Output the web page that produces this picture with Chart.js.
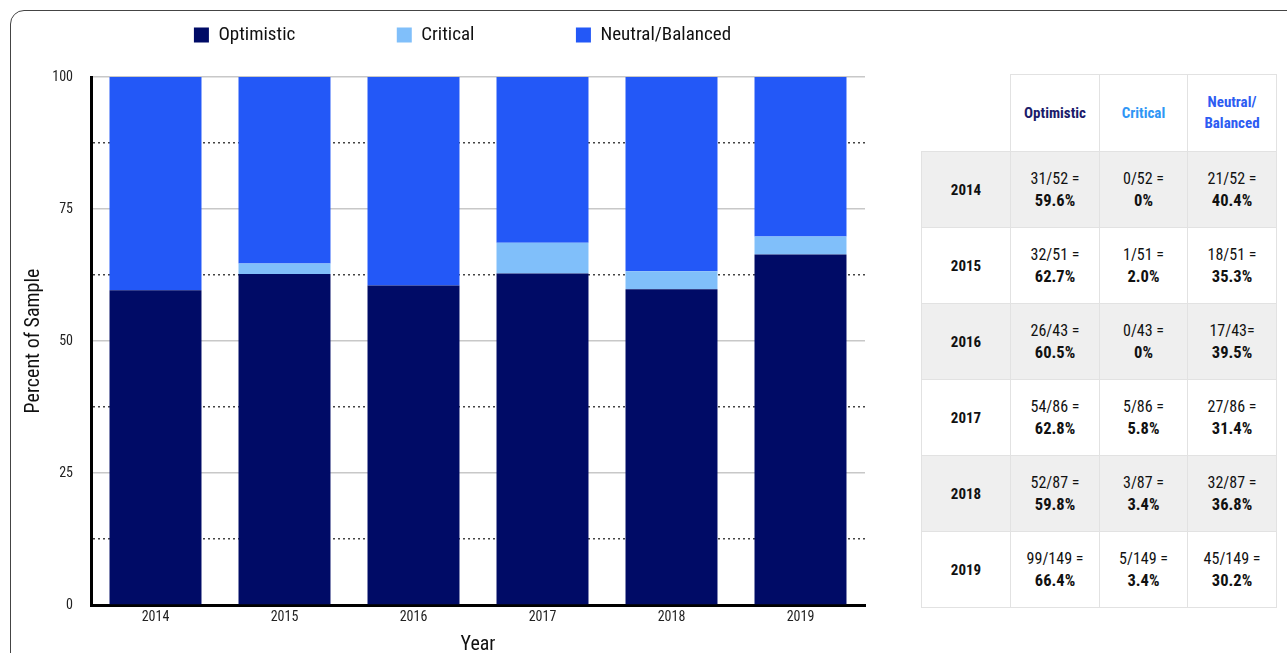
<!DOCTYPE html>
<html>
<head>
<meta charset="utf-8">
<script src="https://cdn.jsdelivr.net/npm/chart.js@4"></script>
<style>
  html, body { margin: 0; padding: 0; background: #fff; overflow: hidden; }
  body { width: 1287px; height: 653px; position: relative; font-family: "Roboto Condensed", Roboto, sans-serif; }
  #frame { position: absolute; left: 10px; top: 10px; width: 1300px; height: 700px; border: 1.5px solid #444; border-radius: 14px; }
  #chartBox { position: absolute; left: 12px; top: -76px; width: 901px; height: 733px; }
  #tbl { position: absolute; left: 921px; top: 74px; border-collapse: collapse; table-layout: fixed; }
  #tbl td, #tbl th { border: 1px solid #e2e2e2; text-align: center; vertical-align: middle; padding: 0; }
  #tbl th { height: 76px; font-size: 15px; font-weight: bold; line-height: 21px; }
  #tbl td { height: 75px; font-size: 16px; line-height: 22px; color: #111; }
  #tbl td b { font-size: 16.5px; }
  #tbl td.yr { font-weight: bold; font-size: 15px; }
  #tbl tr.alt td { background: #efefef; }
  #tbl th.corner { border-top: none; border-left: none; }
</style>
</head>
<body>
<div id="frame"></div>
<div id="chartBox"><canvas id="myChart"></canvas></div>
<table id="tbl"></table>
<script>
var years = ['2014', '2015', '2016', '2017', '2018', '2019'];
var totals = [52, 51, 43, 86, 87, 149];
var optimisticCount = [31, 32, 26, 54, 52, 99];
var criticalCount = [0, 1, 0, 5, 3, 5];
var neutralCount = [21, 18, 17, 27, 32, 45];
var optimisticPct = [59.6, 62.7, 60.5, 62.8, 59.8, 66.4];
var criticalPct = [0, 2.0, 0, 5.8, 3.4, 3.4];
var neutralPct = [40.4, 35.3, 39.5, 31.4, 36.8, 30.2];
var neutralEq = [' =', ' =', '=', ' =', ' =', ' ='];
var yTicks = [0, 25, 50, 75, 100];

var colors = {
  optimistic: '#000b66',
  critical: '#80bffa',
  neutral: '#2358f7'
};
var headColors = ['#1b1b6b', '#2f96f5', '#2d5cf2'];

var font = '"Roboto Condensed", Roboto, sans-serif';

function createChart() {
  var ctx = document.getElementById('myChart');
  new Chart(ctx, {
    type: 'bar',
    data: {
      labels: years,
      datasets: [
        { label: 'Optimistic', data: optimisticPct, backgroundColor: colors.optimistic },
        { label: 'Critical', data: criticalPct, backgroundColor: colors.critical },
        { label: 'Neutral/Balanced', data: neutralPct, backgroundColor: colors.neutral }
      ].map(function (d) {
        d.xAxisID = 'x';
        d.yAxisID = 'y';
        d.borderWidth = 0;
        d.barPercentage = 0.713;
        d.categoryPercentage = 1;
        return d;
      })
    },
    options: {
      responsive: true,
      maintainAspectRatio: false,
      animation: false,
      layout: { padding: 0 },
      plugins: {
        tooltip: { enabled: false },
        legend: {
          position: 'top',
          labels: {
            font: { family: font, size: 19 },
            color: '#111',
            boxWidth: 15,
            boxHeight: 15,
            padding: 101.5
          }
        }
      },
      scales: {
        x: {
          stacked: true,
          position: 'bottom',
          grid: { display: false, drawTicks: false },
          border: { display: true, color: '#000', width: 3 },
          ticks: { font: { family: font, size: 14 }, color: '#222', padding: 4 },
          title: { display: true, text: 'Year', font: { family: font, size: 20 }, color: '#111', padding: { top: 0, bottom: 0 } },
          afterFit: function (s) { s.height = 52; }
        },
        x2: {
          type: 'category',
          position: 'top',
          grid: { display: false },
          border: { display: false },
          ticks: { display: false },
          afterFit: function (s) { s.height = 22.5; }
        },
        y: {
          stacked: true,
          min: 0,
          max: 100,
          position: 'left',
          afterBuildTicks: function (s) {
            // solid lines at labelled ticks, dotted lines halfway between
            var t = [];
            yTicks.forEach(function (v, i) {
              t.push({ value: v });
              if (i < yTicks.length - 1) t.push({ value: (v + yTicks[i + 1]) / 2 });
            });
            s.ticks = t;
          },
          grid: {
            drawTicks: false,
            color: function (c) { return yTicks.indexOf(c.tick.value) < 0 ? '#444' : '#c8c8c8'; },
            lineWidth: 1.5
          },
          border: {
            display: true, color: '#000', width: 3,
            dash: function (c) { return c.tick && yTicks.indexOf(c.tick.value) < 0 ? [2, 3] : []; }
          },
          ticks: {
            font: { family: font, size: 14 },
            color: '#222',
            padding: 18,
            callback: function (v) { return yTicks.indexOf(v) < 0 ? '' : v; }
          },
          title: { display: true, text: 'Percent of Sample', font: { family: font, size: 20 }, color: '#111', padding: { top: 10, bottom: 0 } },
          afterFit: function (s) { s.width = 79; }
        },
        y2: {
          type: 'linear',
          position: 'right',
          grid: { display: false },
          border: { display: false },
          ticks: { display: false },
          afterFit: function (s) { s.width = 48; }
        }
      }
    }
  });
}

function pctText(v) {
  return v === 0 ? '0%' : v.toFixed(1) + '%';
}

function createTable() {
  var tbl = document.getElementById('tbl');
  var widths = [89, 89, 88, 89];
  var html = '<colgroup>' + widths.map(function (w) { return '<col style="width:' + w + 'px">'; }).join('') + '</colgroup>';
  html += '<tr><th class="corner"></th>' +
    '<th style="color:' + headColors[0] + '">Optimistic</th>' +
    '<th style="color:' + headColors[1] + '">Critical</th>' +
    '<th style="color:' + headColors[2] + '">Neutral/<br>Balanced</th></tr>';
  years.forEach(function (y, i) {
    html += '<tr class="' + (i % 2 === 0 ? 'alt' : '') + '">' +
      '<td class="yr">' + y + '</td>' +
      '<td>' + optimisticCount[i] + '/' + totals[i] + ' =<br><b>' + pctText(optimisticPct[i]) + '</b></td>' +
      '<td>' + criticalCount[i] + '/' + totals[i] + ' =<br><b>' + pctText(criticalPct[i]) + '</b></td>' +
      '<td>' + neutralCount[i] + '/' + totals[i] + neutralEq[i] + '<br><b>' + pctText(neutralPct[i]) + '</b></td>' +
      '</tr>';
  });
  tbl.innerHTML = html;
}

createChart();
createTable();
</script>
</body>
</html>
